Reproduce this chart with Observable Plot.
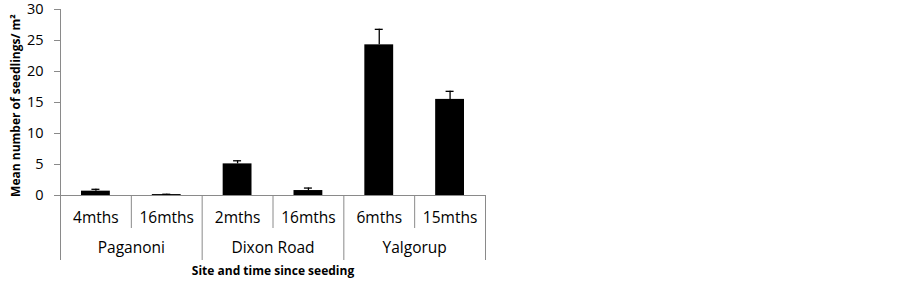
<!DOCTYPE html>
<html>
<head>
<meta charset="utf-8">
<script src="https://cdn.jsdelivr.net/npm/d3@7"></script>
<script src="https://cdn.jsdelivr.net/npm/@observablehq/plot@0.6"></script>
<style>
  html, body { margin: 0; padding: 0; background: #fff; }
  #chart svg { display: block; }
</style>
</head>
<body>
<div id="chart"></div>
<script>
const sites = ["Paganoni", "Paganoni", "Dixon Road", "Dixon Road", "Yalgorup", "Yalgorup"];
const times = ["4mths", "16mths", "2mths", "16mths", "6mths", "15mths"];
const means = [0.7, 0.15, 5.1, 0.8, 24.3, 15.5];
const errors = [0.3, 0.05, 0.5, 0.4, 2.5, 1.3];
const groupNames = ["Paganoni", "Dixon Road", "Yalgorup"];
const yTicks = [0, 5, 10, 15, 20, 25, 30];

const data = times.map((t, i) => ({i, site: sites[i], time: t, mean: means[i], err: errors[i]}));
const groups = groupNames.map(g => {
  const idx = data.filter(d => d.site === g).map(d => d.i);
  return {name: g, start: d3.min(idx), end: d3.max(idx) + 1};
});
const inner = data.filter(d => d.i > 0 && sites[d.i] === sites[d.i - 1]).map(d => d.i);
const outer = [...groups.map(g => g.start), groups[groups.length - 1].end];

const gray = "#8a8a8a";
const font = "'Open Sans', sans-serif";

const chart = Plot.plot({
  width: 902,
  height: 283,
  marginLeft: 60,
  marginRight: 417,
  marginTop: 9,
  marginBottom: 88,
  style: {fontFamily: font, fontSize: "15.5px", color: "#000", background: "#fff"},
  x: {type: "linear", domain: [0, data.length], axis: null},
  y: {domain: [0, 30], axis: null},
  marks: [
    Plot.axisY({ticks: yTicks, tickSize: 6, tickPadding: 11, stroke: gray, label: null, tickFormat: d => d, fill: "#000", fontSize: 14.5}),
    Plot.ruleX([0], {y1: 0, y2: 30, stroke: gray}),
    Plot.ruleY([0], {stroke: gray}),
    Plot.ruleX(inner, {x: d => d, y1: 0, y2: 0, insetBottom: -33, stroke: gray}),
    Plot.ruleX(outer, {x: d => d, y1: 0, y2: 0, insetBottom: -65, stroke: gray}),
    Plot.rectY(data, {x1: "i", x2: d => d.i + 1, y: "mean", fill: "#000", insetLeft: 21, insetRight: 21}),
    Plot.ruleX(data, {x: d => d.i + 0.5, y1: "mean", y2: d => d.mean + d.err, stroke: "#000", strokeWidth: 1.3}),
    Plot.ruleY(data, {x1: d => d.i + 0.5, x2: d => d.i + 0.5, y: d => d.mean + d.err, insetLeft: -4, insetRight: -4, stroke: "#000", strokeWidth: 1.3}),
    Plot.text(data, {x: d => d.i + 0.5, y: 0, text: "time", dy: 23, fill: "#000"}),
    Plot.text(groups, {x: d => (d.start + d.end) / 2, y: 0, text: "name", dy: 53, fill: "#000"}),
    Plot.text(["Site and time since seeding"], {x: data.length / 2, y: 0, text: d => d, dy: 76, fontWeight: "bold", fontSize: 12, fill: "#000"}),
    Plot.text(["Mean number of seedlings/ m²"], {frameAnchor: "left", textAnchor: "middle", text: d => d, rotate: -90, dx: -44, dy: 3, fontWeight: "bold", fontSize: 12, fill: "#000"})
  ]
});
document.getElementById("chart").appendChild(chart);
</script>
</body>
</html>
